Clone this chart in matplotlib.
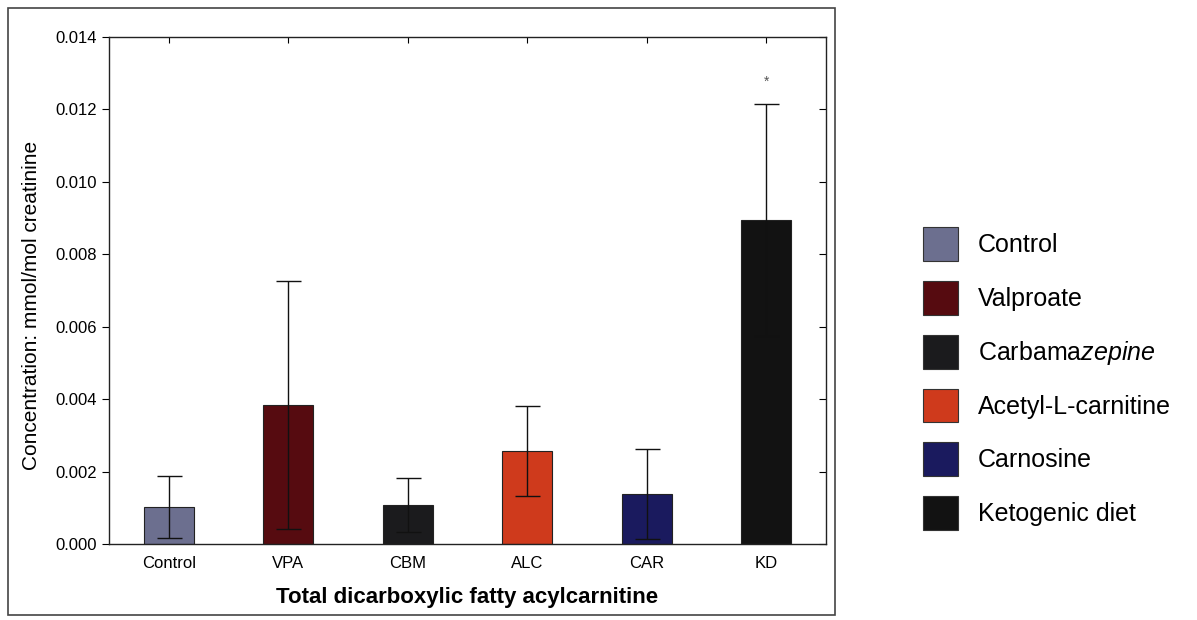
import numpy as np
import matplotlib
matplotlib.use('Agg')
import matplotlib.pyplot as plt
from matplotlib.patches import Patch, Rectangle

plt.rcParams['font.family'] = ['Liberation Sans', 'DejaVu Sans']
plt.rcParams['mathtext.fontset'] = 'custom'
plt.rcParams['mathtext.rm'] = 'Liberation Sans'
plt.rcParams['mathtext.it'] = 'Liberation Sans:italic'

groups = ['Control', 'VPA', 'CBM', 'ALC', 'CAR', 'KD']
means = [0.00102, 0.00384, 0.00108, 0.00257, 0.00138, 0.00895]
errors = [0.00086, 0.00343, 0.00074, 0.00124, 0.00124, 0.00320]
legend_labels = ['Control', 'Valproate', r'Carbama$\it{zepine}$',
                 'Acetyl-L-carnitine', 'Carnosine', 'Ketogenic diet']
colors = ['#6c6f8f', '#560b10', '#1b1b1d', '#cf3a1c', '#1a1a5e', '#121212']
y_ticks = [0.000, 0.002, 0.004, 0.006, 0.008, 0.010, 0.012, 0.014]

fig = plt.figure(figsize=(11.97, 6.20), dpi=100)
ax = fig.add_axes([0.0911, 0.1226, 0.5989, 0.8177])

x = np.arange(len(groups))
ax.bar(x, means, width=0.42, color=colors, edgecolor='#222222', linewidth=0.8, zorder=2)
ax.errorbar(x, means, yerr=errors, fmt='none', ecolor='#111111', elinewidth=1.0,
            capsize=9, capthick=1.0, zorder=3)
ax.text(x[5], means[5] + errors[5] + 0.0006, '*', ha='center', va='center',
        fontsize=10, color='#555555')

ax.set_xlim(-0.5, 5.5)
ax.set_ylim(0, 0.014)
ax.set_yticks(y_ticks)
ax.set_yticklabels(['%.3f' % v for v in y_ticks], fontsize=12)
ax.set_xticks(x)
ax.set_xticklabels(groups, fontsize=12)
ax.tick_params(axis='x', bottom=False, top=True, direction='in', length=4, pad=9)
ax.tick_params(axis='y', left=True, right=True, direction='out', length=5, pad=4)
ax.set_ylabel('Concentration: mmol/mol creatinine', fontsize=15)
ax.yaxis.set_label_coords(-0.095, 0.47)
ax.set_xlabel('Total dicarboxylic fatty acylcarnitine', fontsize=16,
              fontweight='bold', labelpad=11)
for s in ax.spines.values():
    s.set_linewidth(1.0)
    s.set_color('#222222')

# right spine ticks point inward
for t in ax.yaxis.get_major_ticks():
    t.tick2line.set_marker(matplotlib.markers.TICKLEFT)

# outer frame around the plot panel
fig.patches.append(Rectangle((8 / 1197, 5 / 620), 827 / 1197, 607 / 620,
                             transform=fig.transFigure, fill=False,
                             edgecolor='#444444', linewidth=1.2))

handles = [Patch(facecolor=c, edgecolor='#333333', linewidth=0.8) for c in colors]
fig.legend(handles, legend_labels, loc='upper left',
           bbox_to_anchor=(900 / 1197, 1 - 205 / 620), fontsize=18,
           frameon=False, handlelength=1.4, handleheight=1.7,
           labelspacing=0.8, handletextpad=0.8)

fig.savefig('out.png', dpi=100)
